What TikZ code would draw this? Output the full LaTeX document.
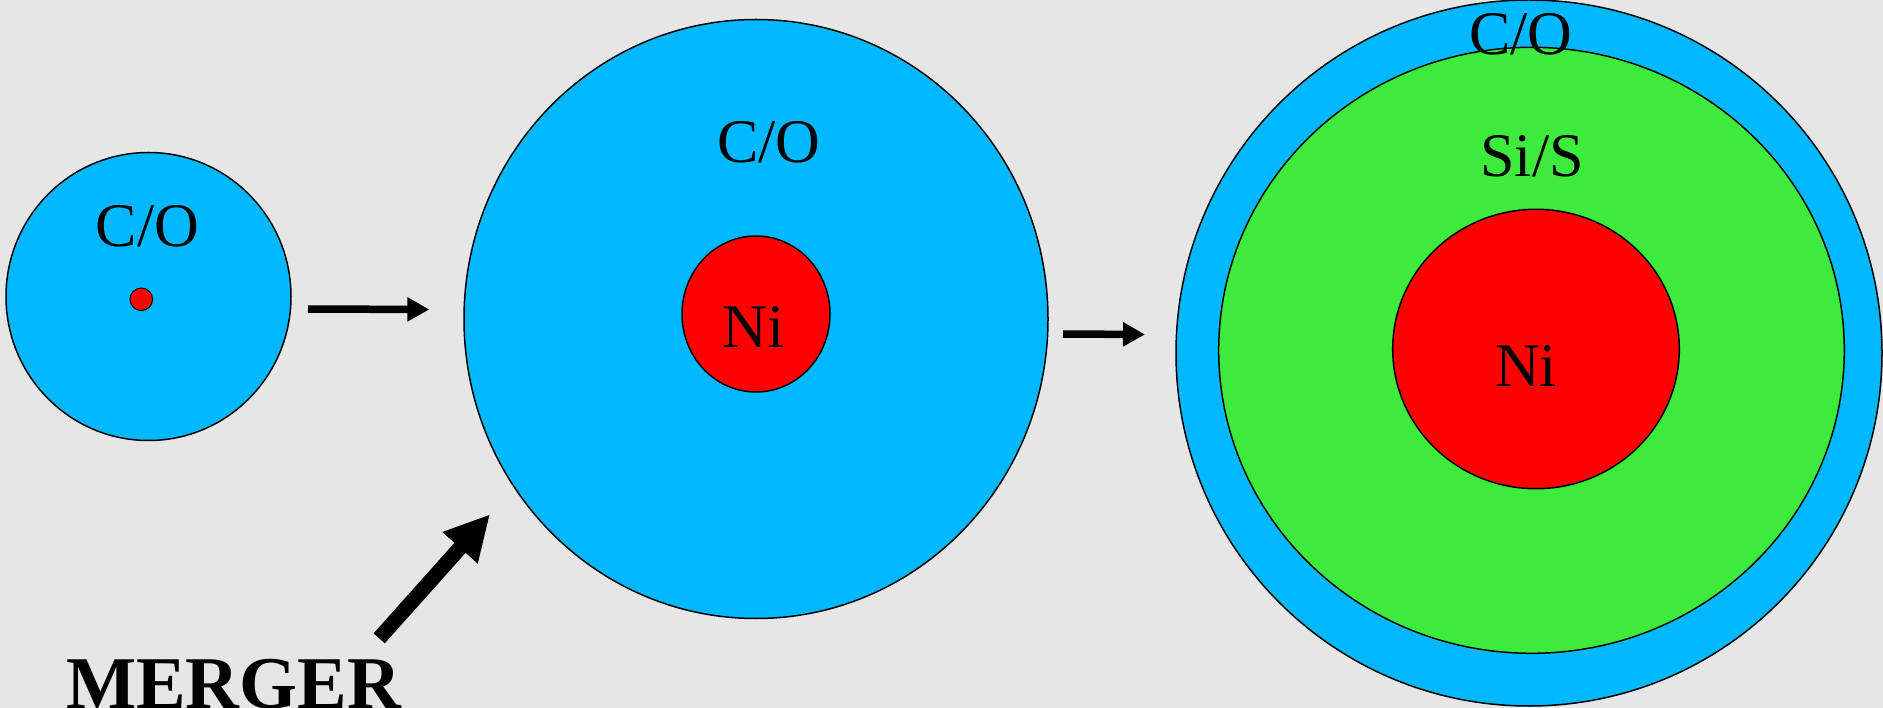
\documentclass[tikz,border=0pt]{standalone}
\usepackage{fontspec}
\setmainfont{Liberation Serif}
\usetikzlibrary{shapes.geometric,arrows.meta}
\definecolor{bgc}{HTML}{E6E6E6}
\definecolor{shellblue}{HTML}{00B8FF}
\definecolor{shellgreen}{HTML}{3DEB3D}
\definecolor{corered}{HTML}{FF0000}
\tikzset{
  shell/.style={ellipse, draw=black, line width=1.5pt, inner sep=0pt},
  lbl/.style={anchor=base, inner sep=0pt, font=\fontsize{62}{70}\selectfont},
  flowarrow/.style={line width=7.5pt, -{Triangle[length=22pt,width=23pt]}},
  mergearrow/.style={line width=15pt, -{Triangle[length=45pt,width=44pt]}}
}
\begin{document}
\begin{tikzpicture}[x=1pt,y=-1pt]
\fill[bgc] (0,0) rectangle (1883,708);
\useasboundingbox (0,0) rectangle (1883,708);
% small star
\node[shell, fill=shellblue, minimum width=285pt, minimum height=288pt] (smallCO) at (148.5,296.5) {};
\node[shell, fill=corered, line width=1pt, minimum width=22.6pt, minimum height=22.6pt] (smallNi) at (141.3,299.3) {};
\node[lbl] (smallCOlbl) at (147.5,246.7) {C/O};
% middle star
\node[shell, fill=shellblue, minimum width=584pt, minimum height=599pt] (midCO) at (756,319) {};
\node[shell, fill=corered, minimum width=148pt, minimum height=156pt] (midNi) at (756,314) {};
\node[lbl] (midCOlbl) at (769,163) {C/O};
\node[lbl] (midNilbl) at (753.5,347.7) {Ni};
% large star
\node[shell, fill=shellblue, minimum width=706pt, minimum height=706pt] (bigCO) at (1529,353) {};
\node[shell, fill=shellgreen, minimum width=625.6pt, minimum height=606pt] (bigSiS) at (1531.5,350.3) {};
\node[shell, fill=corered, minimum width=286.6pt, minimum height=279.4pt] (bigNi) at (1536,349) {};
\node[lbl] (bigCOlbl) at (1521,55) {C/O};
\node[lbl] (bigSiSlbl) at (1532,177) {Si/S};
\node[lbl] (bigNilbl) at (1526,387) {Ni};
% arrows
\coordinate (a1s) at (308,309);
\coordinate (a1e) at (429.3,309.5);
\coordinate (a2s) at (1063,334);
\coordinate (a2e) at (1145,334.5);
\coordinate (a3s) at (379.2,638.3);
\coordinate (a3e) at (490,514.3);
\draw[flowarrow] (a1s) -- (a1e);
\draw[flowarrow] (a2s) -- (a2e);
\draw[mergearrow] (a3s) -- (a3e);
\node[anchor=base, inner sep=0pt, font=\fontsize{74.4}{80}\selectfont\bfseries] (merger) at (233.5,708) {MERGER};
\end{tikzpicture}
\end{document}
